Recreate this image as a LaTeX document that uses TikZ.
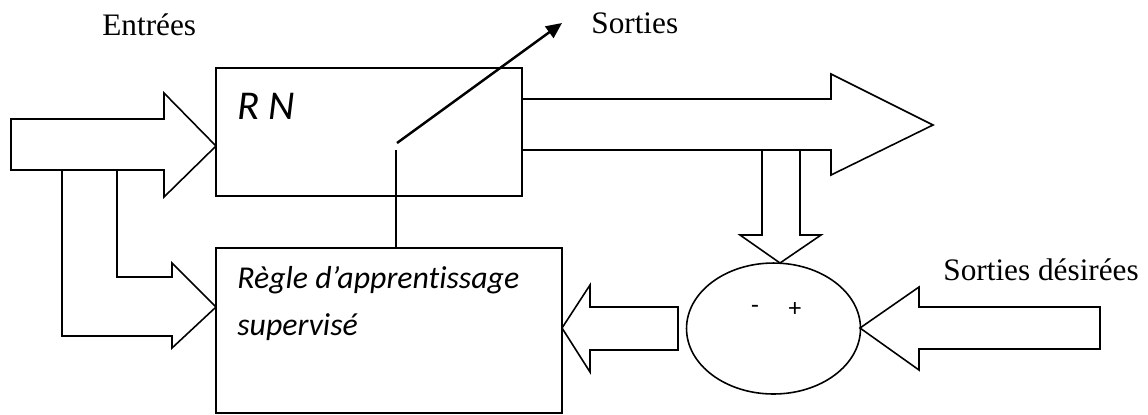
\documentclass[tikz,border=0pt]{standalone}
\usepackage{fontspec}
\setmainfont{Liberation Serif}
\newfontfamily\carlito[Ligatures=NoCommon]{Carlito}
\usetikzlibrary{arrows.meta,shapes.geometric}

\tikzset{
  bloc/.style={draw, line width=0.9pt, inner sep=0pt},
  fleche/.style={draw, line width=0.9pt, line join=miter},
  lbl/.style={font=\fontsize{17.8}{20}\selectfont, inner sep=0pt, anchor=base west},
  ital/.style={font=\carlito\itshape\fontsize{18.1}{26.7}\selectfont, inner sep=0pt, anchor=base west, align=left},
  signe/.style={font=\carlito\fontsize{14.5}{16}\selectfont, inner sep=0pt},
}

\begin{document}
\begin{tikzpicture}[x=0.02cm, y=-0.02cm]
\useasboundingbox (0,0) rectangle (1148,414);

        % Les blocs
        \node[bloc, minimum width=6.12cm, minimum height=2.56cm] (rn) at (369,132) {};
        \node[bloc, minimum width=6.92cm, minimum height=3.3cm] (regle) at (389,330.5) {};
        \node[bloc, ellipse, minimum width=3.48cm, minimum height=2.62cm] (comp) at (773.5,328.5) {};

        % Les textes
        \node[ital, font=\carlito\itshape\fontsize{23.3}{28}\selectfont] (rntxt) at (237,119) {R N};
        \node[ital] (regletxt) at (237,335) {Règle d’apprentissage\\supervisé};
        \node[lbl] (entrees) at (102,35) {Entrées};
        \node[lbl] (sorties) at (591,33) {Sorties};
        \node[lbl] (desirees) at (943,280) {Sorties désirées};
        \node[signe] (moins) at (755,309) {-};
        \node[signe] (plus) at (795,309) {+};

        % Fleche des entrees et sa branche vers la regle
        \draw[fleche] (117,170) -- (117,277) -- (172,277) -- (172,263) -- (216,307)
          -- (172,348) -- (172,336) -- (62,336) -- (62,170);
        \draw[fleche] (11,119) -- (164,119) -- (164,93) -- (216,146) -- (164,197)
          -- (164,170) -- (11,170) -- cycle;

        % Fleche des sorties et sa derivation vers le comparateur
        \draw[fleche] (522,99) -- (831,99) -- (831,74) -- (933,125) -- (831,175)
          -- (831,150) -- (522,150);
        \draw[fleche] (762,150) -- (762,235) -- (740,235) -- (780,263) -- (821,235)
          -- (800,235) -- (800,150);

        % Fleches vers et depuis le comparateur
        \draw[fleche] (678,307) -- (590,307) -- (590,285) -- (562,328) -- (590,372)
          -- (590,350) -- (678,350) -- cycle;
        \draw[fleche] (1100,307) -- (919,307) -- (919,287) -- (860,328) -- (919,370)
          -- (919,349) -- (1100,349) -- cycle;

        % Liaison regle -> RN et fleche oblique
        \coordinate (pivot) at (396,150);
        \coordinate (sdep) at (397,143);
        \coordinate (sfin) at (562,23);
        \draw[line width=0.9pt] (pivot) -- (pivot |- regle.north);
        \draw[line width=1.4pt, -{Triangle[length=9pt,width=8pt]}] (sdep) -- (sfin);

\end{tikzpicture}
\end{document}
